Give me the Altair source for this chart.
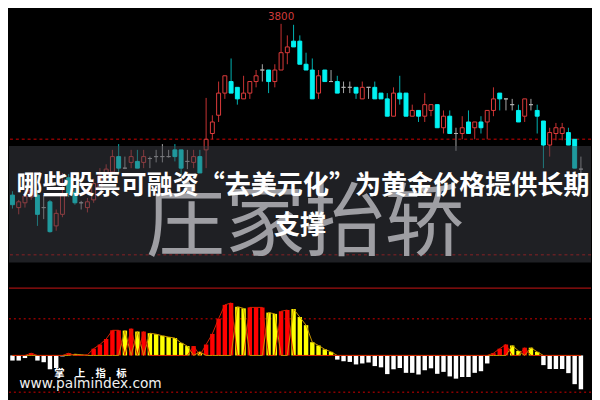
import altair as alt
import pandas as pd
import numpy as np

# ---------------- data ----------------
candle_idx = list(range(92))
opens = [3444, 3418, 3428, 3440, 3444, 3418, 3430, 3380, 3404, 3480,
         3450, 3428, 3418, 3434, 3458, 3480, 3492, 3524, 3500, 3512,
         3514, 3512, 3520, 3524, 3524, 3524, 3538, 3538, 3514, 3512,
         3524, 3538, 3572, 3610, 3656, 3680, 3668, 3644, 3656, 3680,
         3704, 3704, 3680, 3704, 3740, 3764, 3764, 3716, 3704, 3656,
         3704, 3680, 3680, 3668, 3668, 3668, 3644, 3668, 3668, 3656,
         3644, 3608, 3656, 3656, 3608, 3620, 3608, 3620, 3632, 3584,
         3608, 3572, 3572, 3596, 3584, 3596, 3596, 3620, 3656, 3644,
         3632, 3620, 3608, 3632, 3620, 3598, 3548, 3572, 3572, 3574,
         3560, 3498]
highs = [3452, 3434, 3454, 3462, 3454, 3444, 3434, 3414, 3490, 3488,
         3458, 3432, 3438, 3478, 3500, 3508, 3538, 3550, 3524, 3538,
         3538, 3538, 3524, 3538, 3550, 3538, 3550, 3538, 3538, 3538,
         3538, 3646, 3610, 3680, 3692, 3728, 3668, 3692, 3680, 3704,
         3716, 3704, 3716, 3800, 3776, 3798, 3776, 3740, 3728, 3704,
         3704, 3704, 3692, 3680, 3680, 3668, 3680, 3668, 3680, 3656,
         3656, 3668, 3692, 3656, 3632, 3620, 3656, 3632, 3632, 3620,
         3620, 3584, 3608, 3620, 3596, 3608, 3620, 3668, 3656, 3644,
         3644, 3632, 3644, 3644, 3632, 3598, 3584, 3594, 3594, 3584,
         3560, 3524]
lows = [3416, 3404, 3418, 3434, 3380, 3394, 3366, 3370, 3398, 3440,
        3424, 3414, 3408, 3428, 3452, 3474, 3488, 3490, 3498, 3500,
        3500, 3500, 3500, 3512, 3512, 3522, 3514, 3484, 3498, 3500,
        3490, 3500, 3560, 3596, 3644, 3656, 3632, 3644, 3644, 3668,
        3680, 3656, 3668, 3704, 3716, 3752, 3716, 3704, 3644, 3644,
        3680, 3680, 3656, 3656, 3656, 3644, 3644, 3644, 3644, 3644,
        3608, 3608, 3632, 3608, 3608, 3596, 3596, 3608, 3584, 3572,
        3572, 3536, 3560, 3572, 3560, 3572, 3560, 3608, 3620, 3620,
        3620, 3596, 3596, 3620, 3572, 3500, 3524, 3558, 3558, 3548,
        3500, 3474]
closes = [3424, 3430, 3442, 3454, 3404, 3418, 3368, 3406, 3444, 3448,
          3428, 3428, 3430, 3468, 3484, 3498, 3524, 3500, 3500, 3524,
          3500, 3524, 3520, 3524, 3524, 3524, 3524, 3500, 3514, 3524,
          3490, 3560, 3596, 3656, 3692, 3656, 3644, 3656, 3680, 3692,
          3704, 3680, 3704, 3740, 3752, 3752, 3716, 3704, 3644, 3692,
          3680, 3680, 3656, 3668, 3668, 3656, 3668, 3668, 3644, 3644,
          3608, 3656, 3644, 3608, 3620, 3608, 3632, 3632, 3584, 3608,
          3572, 3572, 3584, 3572, 3596, 3584, 3620, 3644, 3644, 3644,
          3632, 3596, 3644, 3632, 3608, 3548, 3574, 3584, 3584, 3548,
          3500, 3498]
price_levels = [3560, 3320]

osc_values = [-5.3, -5.3, -2.7, 2.3, -5.3, -7, -14.3, -13, -1, 2.3,
              1.3, 0.7, 0.7, 7, 11.3, 17, 26, 26, 25.7, 27.7,
              24.7, 24.7, 23, 22, 20.3, 19, 18, 13, 9.7, 9.7,
              3.7, 11.3, 22.3, 38, 52.3, 54.3, 50.3, 48.7, 49.7, 49.7,
              49.7, 44.3, 43, 45.7, 47, 48, 39.7, 31.3, 13.7, 10.3,
              6.3, 3.7, -4.3, -6, -6.7, -9.3, -8.3, -7.3, -11, -12.3,
              -19.3, -14.3, -13, -18, -18, -19.7, -15.3, -13.3, -19, -17,
              -21.7, -24, -22.3, -22.3, -18, -16.3, -8.3, 2.3, 7, 11.3,
              10.3, 4.7, 8, 8, 3.7, -10, -14, -14, -14, -18.3,
              -29.7, -35]
osc_groups = list("WWWRWWWWWR" "YYRRRRRRYR" "YRYYYYYYYR" "YRRRRRYYRR"
                  "RYYRRYYYYY" "YYWWWWWWWW" "WWWWWWWWWW" "WWWWWWWRRR"
                  "YYRYYWWWWW" "WW")
osc_dashed_levels = [38, -38]
osc_top_level = [69.6]

title_line1 = "哪些股票可融资“去美元化”为黄金价格提供长期"
title_line2 = "支撑"
big_text = "庄家抬轿"
wm_cn = "掌　上　指　标"
wm_url = "www.palmindex.com"

# ---------------- layout ----------------
W = 592
H_TOP = 274
H_BOT = 118
SX = W / 600
SYT = H_TOP / 280
SYB = H_BOT / 120

xscale = alt.Scale(domain=[0.23, 91.83], nice=False, zero=False)
ytop = alt.Scale(domain=[3264, 3824], nice=False, zero=False)
ybot = alt.Scale(domain=[-43.7, 76.3], nice=False, zero=False)

df = pd.DataFrame({"i": candle_idx, "open": opens, "high": highs,
                   "low": lows, "close": closes})
df["dir"] = np.where(df["close"] > df["open"], "up",
                     np.where(df["close"] < df["open"], "down", "flat"))
dirs = ["up", "down", "flat"]

X = alt.X("i:Q", scale=xscale, axis=None)

levels_top = alt.Chart(pd.DataFrame({"v": price_levels})).mark_rule(
    color="#8a0000", strokeWidth=1.5, strokeDash=[3, 3]
).encode(y=alt.Y("v:Q", scale=ytop, axis=None))

wicks = alt.Chart(df).mark_rule(strokeWidth=1).encode(
    x=X,
    y=alt.Y("low:Q", scale=ytop, axis=None),
    y2="high:Q",
    color=alt.Color("dir:N", scale=alt.Scale(domain=dirs, range=["#c83232", "#00b4b4", "#a8a8a8"]), legend=None),
)
bodies = alt.Chart(df).mark_bar(size=4, strokeWidth=1).encode(
    x=X,
    y=alt.Y("open:Q", scale=ytop, axis=None),
    y2="close:Q",
    fill=alt.Fill("dir:N", scale=alt.Scale(domain=dirs, range=["#000000", "#00f2f2", "#b0b0b0"]), legend=None),
    stroke=alt.Stroke("dir:N", scale=alt.Scale(domain=dirs, range=["#e03c3c", "#00f2f2", "#b0b0b0"]), legend=None),
)
max_label = alt.Chart(df).transform_window(
    rk="rank()", sort=[alt.SortField("high", order="descending")]
).transform_filter("datum.rk == 1").mark_text(
    baseline="bottom", dy=-2, color="#d23c3c", fontSize=10.5, font="DejaVu Sans"
).encode(x=X, y=alt.Y("high:Q", scale=ytop, axis=None), text=alt.Text("high:Q", format="d"))

one = pd.DataFrame({"a": [0]})
band = alt.Chart(one).mark_rect(color="#3e4048", opacity=0.5).encode(
    x=alt.value(0), x2=alt.value(W), y=alt.value(139 * SYT), y2=alt.value(260 * SYT)
)
big = alt.Chart(pd.DataFrame({"t": [big_text]})).mark_text(
    font="Noto Sans CJK SC", fontSize=81, color="#9e9ea3", align="center", baseline="middle"
).encode(text="t:N", x=alt.value(305 * SX), y=alt.value(222 * SYT))
t1 = alt.Chart(pd.DataFrame({"t": [title_line1]})).mark_text(
    font="Noto Sans CJK SC", fontSize=26.5, fontWeight="bold", color="#ffffff", align="center", baseline="middle"
).encode(text="t:N", x=alt.value(303 * SX), y=alt.value(181 * SYT))
t2 = alt.Chart(pd.DataFrame({"t": [title_line2]})).mark_text(
    font="Noto Sans CJK SC", fontSize=26.5, fontWeight="bold", color="#ffffff", align="center", baseline="middle"
).encode(text="t:N", x=alt.value(300 * SX), y=alt.value(222 * SYT))

top = alt.layer(levels_top, wicks, bodies, max_label, band, big, t1, t2).properties(
    width=W, height=H_TOP
).resolve_scale(color="independent", fill="independent", stroke="independent")

# ---------------- bottom panel ----------------
od = pd.DataFrame({"i": candle_idx, "v": osc_values, "g": osc_groups})
od["red_line"] = np.where(od["g"] == "R", od["v"], 0.0)
od["yel_line"] = np.where(od["g"] == "Y", od["v"], 0.0)

bars = alt.Chart(od).mark_bar(size=4.5).encode(
    x=X,
    y=alt.Y("v:Q", scale=ybot, axis=None),
    y2=alt.datum(0),
    color=alt.Color("g:N", scale=alt.Scale(domain=["R", "Y", "W"], range=["#ff0000", "#ffff00", "#ffffff"]), legend=None),
)
yline = alt.Chart(od).mark_line(color="#c89600", strokeWidth=1).encode(
    x=X, y=alt.Y("yel_line:Q", scale=ybot, axis=None))
rline = alt.Chart(od).mark_line(color="#d82000", strokeWidth=1).encode(
    x=X, y=alt.Y("red_line:Q", scale=ybot, axis=None))
dashed_bot = alt.Chart(pd.DataFrame({"v": osc_dashed_levels})).mark_rule(
    color="#8a0000", strokeWidth=1.5, strokeDash=[2, 3]
).encode(y=alt.Y("v:Q", scale=ybot, axis=None))
solid_bot = alt.Chart(pd.DataFrame({"v": osc_top_level})).mark_rule(
    color="#a01010", strokeWidth=1.3
).encode(y=alt.Y("v:Q", scale=ybot, axis=None))
wm1 = alt.Chart(pd.DataFrame({"t": [wm_cn]})).mark_text(
    font="Noto Sans CJK SC", fontSize=10.5, fontWeight="bold", color="#ffffff", align="center", baseline="middle"
).encode(text="t:N", x=alt.value(84 * SX), y=alt.value((376 - 280) * SYB))
wm2 = alt.Chart(pd.DataFrame({"t": [wm_url]})).mark_text(
    font="DejaVu Sans", fontSize=14, color="#f0f0f0", align="center", baseline="middle"
).encode(text="t:N", x=alt.value(84 * SX), y=alt.value((386 - 280) * SYB))

bot = alt.layer(solid_bot, dashed_bot, bars, yline, rline, wm1, wm2).properties(
    width=W, height=H_BOT
)

chart = alt.vconcat(top, bot, spacing=0).resolve_scale(
    x="independent", y="independent", color="independent"
).properties(background="#000000", padding=0).configure_view(stroke=None)

chart.save("out.html", embed_options={"renderer": "svg", "actions": False})
